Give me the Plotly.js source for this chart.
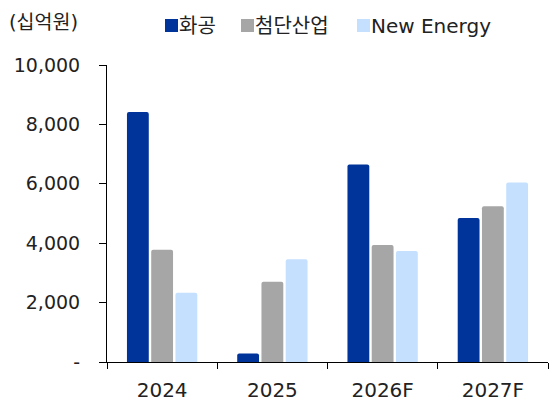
<!DOCTYPE html>
<html><head><meta charset="utf-8">
<script src="https://cdn.plot.ly/plotly-3.0.1.min.js"></script>
<style>html,body{margin:0;padding:0;background:#fff;}#chart{width:558px;height:401px;}</style>
</head><body><div id="chart"></div>
<script>
const categories = ['2024', '2025', '2026F', '2027F'];
const seriesNames = ['화공', '첨단산업', 'New Energy'];
const chemical = [8420, 290, 6650, 4850];
const advanced = [3780, 2700, 3940, 5240];
const newEnergy = [2330, 3460, 3740, 6040];
const yTickVals = [0, 2000, 4000, 6000, 8000, 10000];
const yTickText = ['-', '2,000', '4,000', '6,000', '8,000', '10,000'];
const unitLabel = '(십억원)';
const colors = ['#00349A', '#A6A6A6', '#C5E0FF'];

const W = 558, H = 401;
const M = {l: 107, r: 10, t: 65, b: 39};
const pw = W - M.l - M.r, ph = H - M.t - M.b;
const px = x => (x - M.l) / pw;
const py = y => (H - M.b - y) / ph;

const font = 'DejaVu Sans, Noto Sans CJK KR, sans-serif';
const seriesValues = [chemical, advanced, newEnergy];
const traces = seriesNames.map((n, i) => ({
  type: 'bar', name: n, x: categories, y: seriesValues[i],
  marker: {color: colors[i], cornerradius: 2},
  hoverinfo: 'x+y'
}));

// legend positions (pixels)
const legSq = [165, 241, 357];
const legY0 = 19, legY1 = 32;
const shapes = legSq.map((x, i) => ({
  type: 'rect', xref: 'paper', yref: 'paper',
  x0: px(x), x1: px(x + 13), y0: py(legY1), y1: py(legY0),
  fillcolor: colors[i], line: {width: 0}
}));
const annotations = seriesNames.map((n, i) => ({
  xref: 'paper', yref: 'paper', x: px(legSq[i] + 13), y: py(25.5),
  xanchor: 'left', yanchor: 'middle', text: n, showarrow: false,
  font: {family: font, size: 20, color: '#222'}, borderpad: 0
}));
annotations.push({
  xref: 'paper', yref: 'paper', x: px(8), y: py(23),
  xanchor: 'left', yanchor: 'middle', text: unitLabel, showarrow: false,
  font: {family: font, size: 19.5, color: '#222'}, borderpad: 0
});

const layout = {
  width: W, height: H, margin: M, showlegend: false,
  paper_bgcolor: '#fff', plot_bgcolor: '#fff',
  barmode: 'group', bargap: 0.34, bargroupgap: 0.1,
  font: {family: font, color: '#222'},
  xaxis: {
    type: 'category', showline: true, linecolor: '#000', linewidth: 1,
    ticks: 'outside', tickson: 'boundaries', ticklen: 6, tickcolor: '#000',
    ticklabelstandoff: 10,
    tickfont: {family: font, size: 20, color: '#222'}, showgrid: false, zeroline: false
  },
  yaxis: {
    range: [0, 10000], tickvals: yTickVals, ticktext: yTickText,
    showline: true, linecolor: '#000', linewidth: 1,
    ticks: 'outside', ticklen: 7, tickcolor: '#000', ticklabelstandoff: 15,
    tickfont: {family: font, size: 19, color: '#222'}, showgrid: false, zeroline: false
  },
  shapes: shapes, annotations: annotations
};
Plotly.newPlot('chart', traces, layout, {staticPlot: true});
</script></body></html>
